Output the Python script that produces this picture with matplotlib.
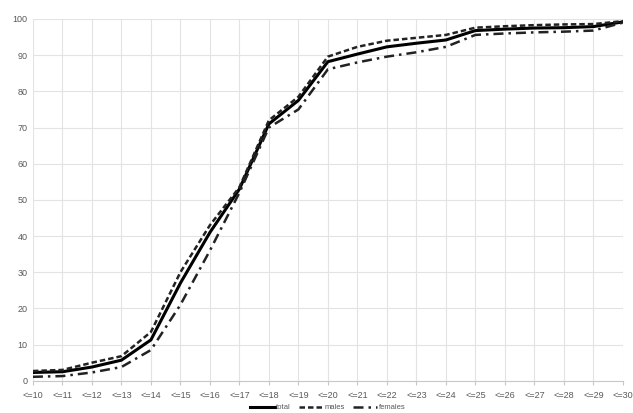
import matplotlib
matplotlib.use('Agg')
import numpy as np
from matplotlib import pyplot as plt

plt.rcParams['font.family'] = ['Liberation Sans Narrow', 'Liberation Sans', 'DejaVu Sans']

categories = ['<=' + str(a) for a in range(10, 31)]
total = [2.3, 2.5, 3.8, 5.7, 11.3, 27, 41, 53, 71, 77.5, 88.2, 90.3, 92.3, 93.3, 94.2,
         96.8, 97.2, 97.5, 97.6, 97.9, 99.2]
males = [2.7, 3.0, 5.0, 6.8, 13.5, 30, 43, 53.5, 72, 78.5, 89.6, 92.3, 94.0, 94.8, 95.6,
         97.6, 98.0, 98.3, 98.5, 98.6, 99.4]
females = [1.1, 1.3, 2.3, 3.8, 8.5, 21, 36, 52, 70, 75, 86.1, 88.0, 89.6, 90.8, 92.3,
           95.6, 96.0, 96.3, 96.5, 96.8, 99.0]

fig = plt.figure(figsize=(6.33, 4.13), dpi=100)
ax = fig.add_axes([0.052, 0.078, 0.932, 0.876])

x = np.arange(len(categories))
ax.plot(x, total, color='black', lw=2.2, ls='-', label='total')
ax.plot(x, males, color='#222222', lw=1.8, ls=(0, (2.2, 1.2)), label='males')
ax.plot(x, females, color='#222222', lw=1.8, ls=(0, (4, 2, 1, 2)), label='females')

ax.set_xlim(0, len(categories) - 1)
ax.set_ylim(0, 100)
ax.set_yticks(range(0, 101, 10))
ax.set_xticks(x)
ax.set_xticklabels(categories)
ax.grid(True, color='#e3e3e3', lw=0.8)
ax.set_axisbelow(True)
for s in ['top', 'right', 'left']:
    ax.spines[s].set_visible(False)
ax.spines['bottom'].set_color('#c8c8c8')
ax.tick_params(axis='both', labelsize=6.5, colors='#595959', length=0, pad=4)
ax.tick_params(axis='x', length=3, color='#c8c8c8')

ax.legend(loc='upper center', bbox_to_anchor=(0.5, -0.045), ncol=3, frameon=False,
          fontsize=5.5, handlelength=3.2, columnspacing=1.0, handletextpad=0.2,
          labelcolor='#595959')

fig.savefig('out.png', dpi=100)
